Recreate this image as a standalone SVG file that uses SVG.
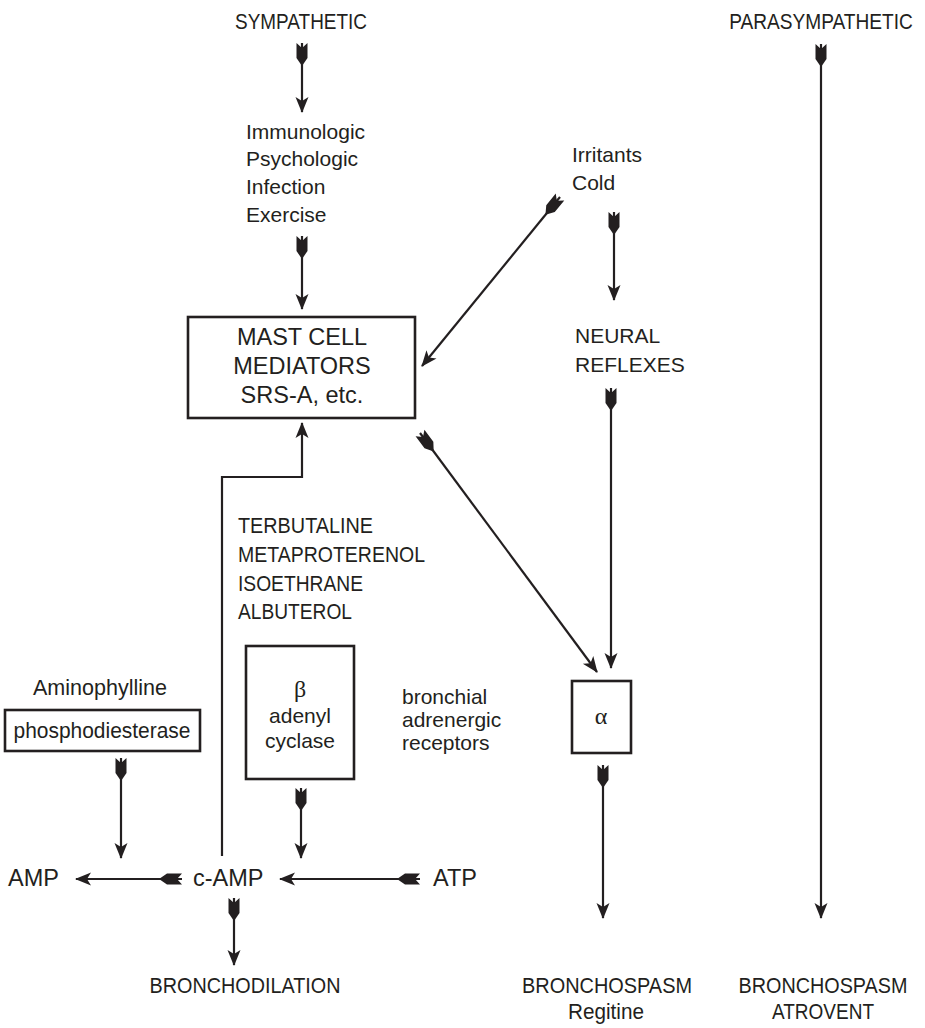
<svg xmlns="http://www.w3.org/2000/svg" width="925" height="1028" viewBox="0 0 925 1028">
<style>
  text{font-family:"Liberation Sans",Arial,sans-serif;fill:#231f20}
  .reg{font-size:21px}
  .big{font-size:23.5px}
  .cond{font-size:22px}
  .greek{font-family:"Liberation Serif","DejaVu Serif",serif;font-size:24px}
  .box{fill:none;stroke:#231f20;stroke-width:2.6}
  .ln{fill:none;stroke:#231f20;stroke-width:2.2}
  .ar{marker-end:url(#head)}
  .fl{marker-start:url(#tail)}
</style>
<defs>
  <marker id="head" markerUnits="userSpaceOnUse" orient="auto" refX="0" refY="0" markerWidth="20" markerHeight="20" overflow="visible">
    <path d="M1,0 L-15,-6.5 L-11,0 L-15,6.5 Z" fill="#231f20"/>
  </marker>
  <marker id="tail" markerUnits="userSpaceOnUse" orient="auto" refX="0" refY="0" markerWidth="25" markerHeight="12" overflow="visible">
    <path d="M0,-5.5 L5,0 L0,5.5 L15,5.5 L23,0 L15,-5.5 Z" fill="#231f20"/>
  </marker>
</defs>

<g id="connectors">
  <path class="ln fl ar" d="M302,43 L302,112"/>
  <path class="ln fl ar" d="M302,236 L302,309"/>
  <path class="ln fl ar" d="M560,197 L422,366"/>
  <path class="ln fl ar" d="M614,212 L614,300"/>
  <path class="ln fl ar" d="M420,433 L597,672"/>
  <path class="ln fl ar" d="M611,388 L611,668"/>
  <path class="ln fl ar" d="M603,765 L603,918"/>
  <path class="ln fl ar" d="M821,44 L821,918"/>
  <path class="ln ar" d="M222,856 L222,477 L302,477 L302,423"/>
  <path class="ln fl ar" d="M121,758 L121,858"/>
  <path class="ln fl ar" d="M301,788 L301,858"/>
  <path class="ln fl ar" d="M182,879 L76,879"/>
  <path class="ln fl ar" d="M420,879 L280,879"/>
  <path class="ln fl ar" d="M234,898 L234,965"/>
</g>

<g id="sympathetic"><text class="cond" x="301" y="29" text-anchor="middle" textLength="132" lengthAdjust="spacingAndGlyphs">SYMPATHETIC</text></g>
<g id="parasympathetic"><text class="cond" transform="translate(821,29) scale(0.869,1)" x="0" y="0" text-anchor="middle">PARASYMPATHETIC</text></g>

<g id="triggers">
  <text class="reg" x="246" y="139">Immunologic</text>
  <text class="reg" x="246" y="166">Psychologic</text>
  <text class="reg" x="246" y="194">Infection</text>
  <text class="reg" x="246" y="222">Exercise</text>
</g>

<g id="irritants">
  <text class="reg" x="572" y="162">Irritants</text>
  <text class="reg" x="572" y="190">Cold</text>
</g>

<g id="mast-cell">
  <rect class="box" x="188" y="317" width="227" height="101"/>
  <text class="big" x="302" y="345" text-anchor="middle">MAST CELL</text>
  <text class="big" x="302" y="374" text-anchor="middle">MEDIATORS</text>
  <text class="big" x="302" y="403" text-anchor="middle">SRS-A, etc.</text>
</g>

<g id="neural-reflexes">
  <text class="reg" x="575" y="343">NEURAL</text>
  <text class="reg" x="575" y="372">REFLEXES</text>
</g>

<g id="beta-agonists">
  <text class="cond" x="238" y="533" textLength="135" lengthAdjust="spacingAndGlyphs">TERBUTALINE</text>
  <text class="cond" x="238" y="562" textLength="187" lengthAdjust="spacingAndGlyphs">METAPROTERENOL</text>
  <text class="cond" x="238" y="591" textLength="125" lengthAdjust="spacingAndGlyphs">ISOETHRANE</text>
  <text class="cond" x="238" y="619" textLength="114" lengthAdjust="spacingAndGlyphs">ALBUTEROL</text>
</g>

<g id="aminophylline"><text class="cond" x="100" y="695" text-anchor="middle" textLength="134" lengthAdjust="spacingAndGlyphs">Aminophylline</text></g>

<g id="phosphodiesterase">
  <rect class="box" x="5" y="710" width="195" height="41"/>
  <text class="cond" x="102" y="738" text-anchor="middle" textLength="177" lengthAdjust="spacingAndGlyphs">phosphodiesterase</text>
</g>

<g id="beta-adenyl-cyclase">
  <rect class="box" x="246" y="646" width="108" height="133"/>
  <text class="greek" x="300" y="697" text-anchor="middle">β</text>
  <text class="reg" x="300" y="723" text-anchor="middle">adenyl</text>
  <text class="reg" x="300" y="748" text-anchor="middle">cyclase</text>
</g>

<g id="bronchial-receptors">
  <text class="reg" x="402" y="704">bronchial</text>
  <text class="reg" x="402" y="727">adrenergic</text>
  <text class="reg" x="402" y="750">receptors</text>
</g>

<g id="alpha">
  <rect class="box" x="572" y="681" width="59" height="72"/>
  <text class="greek" x="601" y="724" text-anchor="middle">α</text>
</g>

<g id="amp"><text class="big" x="8" y="886">AMP</text></g>
<g id="c-amp"><text class="big" x="193" y="886">c-AMP</text></g>
<g id="atp"><text class="big" x="433" y="886">ATP</text></g>

<g id="bronchodilation"><text class="cond" x="245" y="993" text-anchor="middle" textLength="191" lengthAdjust="spacingAndGlyphs">BRONCHODILATION</text></g>

<g id="bronchospasm-regitine">
  <text class="cond" x="607" y="993" text-anchor="middle" textLength="170" lengthAdjust="spacingAndGlyphs">BRONCHOSPASM</text>
  <text class="cond" x="606" y="1019" text-anchor="middle" textLength="76" lengthAdjust="spacingAndGlyphs">Regitine</text>
</g>

<g id="bronchospasm-atrovent">
  <text class="cond" x="823" y="993" text-anchor="middle" textLength="169" lengthAdjust="spacingAndGlyphs">BRONCHOSPASM</text>
  <text class="cond" x="823" y="1019" text-anchor="middle" textLength="102" lengthAdjust="spacingAndGlyphs">ATROVENT</text>
</g>
</svg>
